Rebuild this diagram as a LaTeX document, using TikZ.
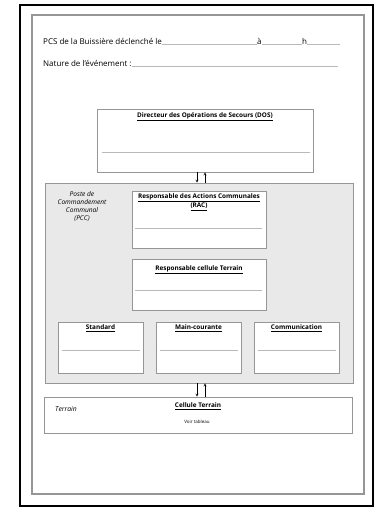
\documentclass[tikz,border=0pt]{standalone}
\usepackage{fontspec}
\setmainfont{Open Sans}
\definecolor{cadre}{RGB}{150,150,150}
\definecolor{trait}{RGB}{185,185,185}
\definecolor{fondpcc}{RGB}{233,233,233}
\usepackage{tikz}
\tikzset{
  fiche/.style={draw=cadre, fill=white, line width=0.6pt, inner sep=0pt},
  titre/.style={font=\fontsize{6.4}{7.4}\selectfont\bfseries, align=center, inner sep=0pt, anchor=north},
  ligne/.style={draw=trait, line width=0.5pt},
  fleche/.style={->, >=stealth, line width=0.4pt},
  entete/.style={font=\fontsize{8}{9.5}\selectfont, inner sep=0pt, anchor=base west},
}

\begin{document}
\begin{tikzpicture}[x=1pt,y=-1pt]
  \useasboundingbox (0,0) rectangle (375,507);
  \draw[line width=2pt] (20,5) rectangle (373,506);
  \draw[cadre, line width=1.4pt] (32,15) rectangle (364,494);

  \node[entete] (l1) at (43,44) {PCS de la Buissière déclenché le};
  \node[entete] (la) at (257,44) {à};
  \node[entete] (lh) at (302,44) {h};
  \node[entete] (l2) at (43,66) {Nature de l'événement :};
  \draw[ligne] (l1.base east) -- (la.base west);
  \draw[ligne] (la.base east) -- (lh.base west);
  \draw[ligne] (lh.base east) -- ++(33,0);
  \draw[ligne] (l2.base east) -- (338,66);

  \node[fiche, minimum width=216pt, minimum height=63pt] (dos) at (205,140.5) {};
  \node[titre] at ([yshift=-3.5pt]dos.north) {\underline{Directeur des Opérations de Secours (DOS)}};
  \draw[ligne] (102,152) -- (310,152);

  \node[draw=cadre, fill=fondpcc, line width=0.6pt, minimum width=308pt, minimum height=200pt] (pcc) at (199,283) {};
  \node[font=\fontsize{6.6}{8}\selectfont\itshape, align=center, anchor=north, inner sep=0pt] (lpcc) at (82,191) {Poste de\\Commandement\\Communal\\(PCC)};

  \node[fiche, minimum width=134pt, minimum height=57pt] (rac) at (199,219.5) {};
  \node[titre] at ([yshift=-2.5pt]rac.north) {\underline{Responsable des Actions Communales}\\\underline{(RAC)}};
  \draw[ligne] (135,228) -- (262,228);

  \node[fiche, minimum width=134pt, minimum height=51pt] (rct) at (199,284.5) {};
  \node[titre] at ([yshift=-6.5pt]rct.north) {\underline{Responsable cellule Terrain}};
  \draw[ligne] (135,290) -- (262,290);

  \foreach \n/\x/\t in {std/100.5/Standard, mc/198.5/Main-courante, com/296.5/Communication}{
    \node[fiche, minimum width=85pt, minimum height=51pt] (\n) at (\x,347.5) {};
    \node[titre] at ([yshift=-2.5pt]\n.north) {\underline{\t}};
    \draw[ligne] ([xshift=4pt]\n.west |- 0,350) -- ([xshift=-3pt]\n.east |- 0,350);
  }

  \node[fiche, minimum width=308pt, minimum height=36pt] (ter) at (198,415) {};
  \node[font=\fontsize{6.8}{8}\selectfont\itshape, anchor=west, inner sep=0pt] (lter) at (55,409) {Terrain};
  \node[titre] (ct) at ([yshift=-5.5pt]ter.north) {\underline{Cellule Terrain}};
  \node[font=\fontsize{4.5}{5}\selectfont, inner sep=0pt] (vt) at (197,422) {Voir tableau};

  \draw[fleche] ([xshift=-8pt]dos.south) -- ([xshift=-8pt]dos.south |- pcc.north);
  \draw[fleche] (dos.south |- pcc.north) -- (dos.south);
  \draw[fleche] ([xshift=-2pt]pcc.south) -- ([xshift=-2pt]pcc.south |- ter.north);
  \draw[fleche] ([xshift=6pt]pcc.south |- ter.north) -- ([xshift=6pt]pcc.south);
\end{tikzpicture}
\end{document}
